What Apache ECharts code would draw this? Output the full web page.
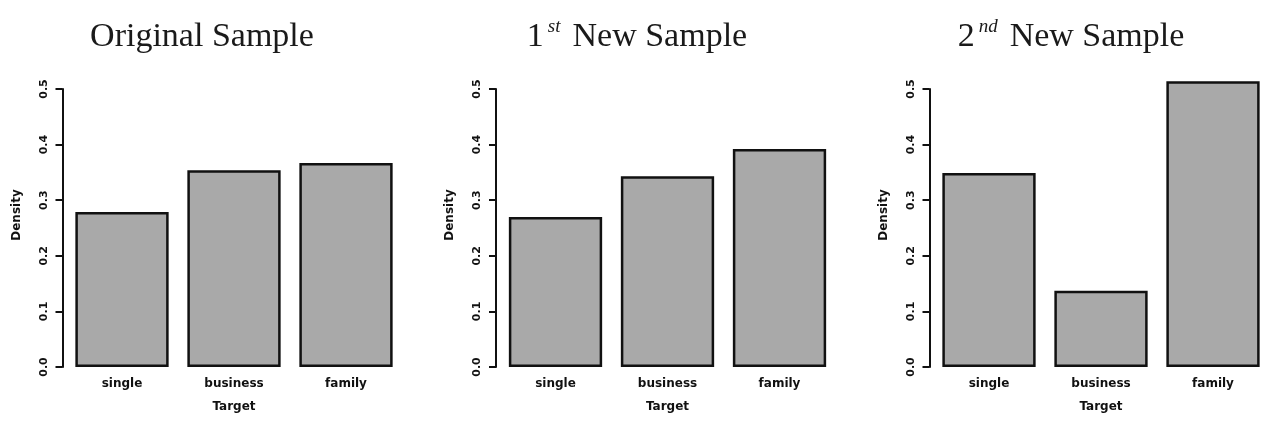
<!DOCTYPE html>
<html>
<head>
<meta charset="utf-8">
<script src="https://cdn.jsdelivr.net/npm/echarts@6/dist/echarts.min.js"></script>
<style>
  html, body { margin: 0; padding: 0; background: #fff; }
  #main { width: 1261px; height: 421px; }
</style>
</head>
<body>
<div id="main"></div>
<script>
    // data
    var categories = ['single', 'business', 'family'];
    var originalSample = [0.279, 0.354, 0.367];
    var newSample1 = [0.270, 0.343, 0.392];
    var newSample2 = [0.349, 0.137, 0.514];

    var panels = [
        { title: '{n|Original Sample}', data: originalSample, left: 66, titleX: 197 },
        { title: '{n|1}{sup|st}{n|New Sample}', data: newSample1, left: 499.5, titleX: 632 },
        { title: '{n|2}{sup|nd}{n|New Sample}', data: newSample2, left: 933, titleX: 1066 }
    ];

    var chart = echarts.init(document.getElementById('main'));
    var labelFont = 'DejaVu Sans';
    var titleRich = {
        n: { fontFamily: 'Liberation Serif', fontSize: 34, color: '#1a1a1a', verticalAlign: 'bottom', lineHeight: 40 },
        sup: { fontFamily: 'Liberation Serif', fontSize: 19, fontStyle: 'italic', color: '#1a1a1a', verticalAlign: 'top', lineHeight: 19, padding: [3, 12, 0, 4] }
    };

    var option = {
        backgroundColor: '#fff',
        animation: false,
        title: [],
        grid: [],
        xAxis: [],
        yAxis: [],
        series: []
    };

    panels.forEach(function (p, i) {
        option.title.push({
            text: p.title,
            left: p.titleX,
            top: 9,
            textAlign: 'center',
            textStyle: {
                fontFamily: 'Liberation Serif',
                fontSize: 34,
                fontWeight: 'normal',
                color: '#1a1a1a',
                rich: titleRich
            }
        });
        option.grid.push({
            left: p.left,
            width: 336,
            top: 89,
            bottom: 54,
            containLabel: false,
            outerBoundsMode: 'none'
        });
        option.xAxis.push({
            type: 'category',
            gridIndex: i,
            data: categories,
            name: 'Target',
            nameLocation: 'middle',
            nameGap: 34,
            nameTextStyle: { fontFamily: labelFont, fontSize: 12, fontWeight: 'bold', color: '#111' },
            axisLine: { show: false },
            axisTick: { show: false },
            axisLabel: { margin: 11, fontFamily: labelFont, fontSize: 12, fontWeight: 'bold', color: '#111' }
        });
        option.yAxis.push({
            type: 'value',
            gridIndex: i,
            min: 0,
            max: 0.5,
            interval: 0.1,
            offset: 3.5,
            name: 'Density',
            nameLocation: 'middle',
            nameGap: 40,
            nameTextStyle: { fontFamily: labelFont, fontSize: 12, fontWeight: 'bold', color: '#111', padding: [0, 0, 0, 26] },
            splitLine: { show: false },
            axisLine: { show: true, lineStyle: { color: '#111', width: 2 } },
            axisTick: { show: true, length: 7, lineStyle: { color: '#111', width: 2 } },
            axisLabel: {
                rotate: 90,
                margin: 13,
                fontFamily: labelFont,
                fontSize: 11,
                fontWeight: 'bold',
                color: '#111',
                formatter: function (v) { return v.toFixed(1); }
            }
        });
        option.series.push({
            type: 'bar',
            xAxisIndex: i,
            yAxisIndex: i,
            data: p.data,
            barWidth: '83.3%',
            clip: false,
            itemStyle: { color: '#a9a9a9', borderColor: '#111', borderWidth: 2.5 }
        });
    });

    chart.setOption(option);
</script>
</body>
</html>
